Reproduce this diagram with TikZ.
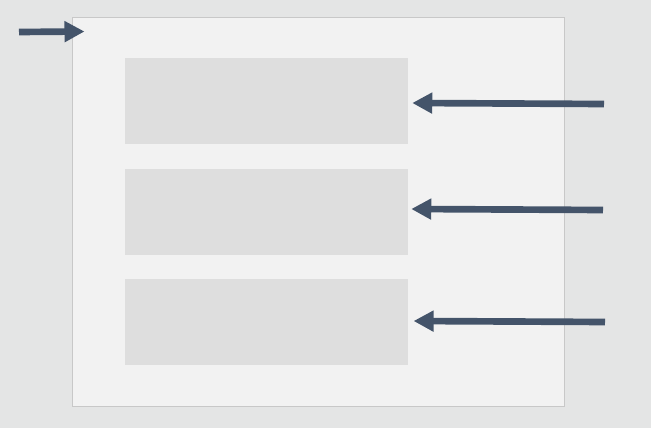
\documentclass[tikz,border=0pt]{standalone}
\usetikzlibrary{arrows.meta, positioning}
\definecolor{pagegray}{RGB}{228, 229, 229}
\definecolor{panelgray}{RGB}{242, 242, 242}
\definecolor{panelline}{RGB}{200, 200, 200}
\definecolor{slotgray}{RGB}{222, 222, 222}
\definecolor{slateblue}{RGB}{68, 84, 106}
\begin{document}
\begin{tikzpicture}[x=0.75pt, y=-0.75pt,
        panel/.style={rectangle, draw=panelline, fill=panelgray, line width=0.75pt, minimum width=369pt, minimum height=291pt, inner sep=0pt},
        slot/.style={rectangle, fill=slotgray, minimum width=212.25pt, minimum height=64.5pt, inner sep=0pt},
        pointer/.style={-{Triangle[length=15pt, width=15pt]}, line width=5pt, slateblue}
    ]
        \fill[pagegray] (0, 0) rectangle (651, 428);
        \useasboundingbox (0, 0) rectangle (651, 428);

        \node[panel] (panel) at (318, 212) {};
        \node[slot] (slot1) at (266.5, 101) {};
        \node[slot] (slot2) at (266.5, 212) {};
        \node[slot] (slot3) at (266.5, 322) {};

        \coordinate (start) at (19, 32);
        \coordinate (src1) at (604, 104);
        \coordinate (src2) at (603, 210);
        \coordinate (src3) at (605, 322);

        \draw[pointer] (start) -- ([xshift=9.75pt, yshift=-10.5pt]panel.north west);
        \draw[pointer] (src1) -- ([xshift=3pt, yshift=-1.5pt]slot1.east);
        \draw[pointer] (src2) -- ([xshift=2.25pt, yshift=2.25pt]slot2.east);
        \draw[pointer] (src3) -- ([xshift=4pt, yshift=0.75pt]slot3.east);
    \end{tikzpicture}
\end{document}
